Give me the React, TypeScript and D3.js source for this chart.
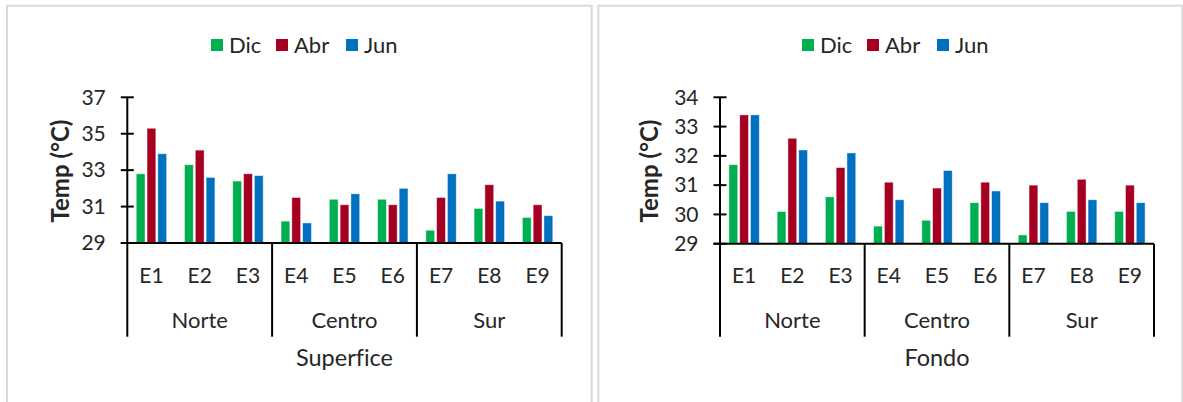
import React from 'react';
import * as d3 from 'd3';

const categories = ['E1', 'E2', 'E3', 'E4', 'E5', 'E6', 'E7', 'E8', 'E9'];
const groups = ['Norte', 'Centro', 'Sur'];
const seriesNames = ['Dic', 'Abr', 'Jun'];
const seriesColors = ['#00B050', '#A50021', '#0070C0'];

const supDic = [32.8, 33.3, 32.4, 30.2, 31.4, 31.4, 29.7, 30.9, 30.4];
const supAbr = [35.3, 34.1, 32.8, 31.5, 31.1, 31.1, 31.5, 32.2, 31.1];
const supJun = [33.9, 32.6, 32.7, 30.1, 31.7, 32.0, 32.8, 31.3, 30.5];

const fonDic = [31.7, 30.1, 30.6, 29.6, 29.8, 30.4, 29.3, 30.1, 30.1];
const fonAbr = [33.4, 32.6, 31.6, 31.1, 30.9, 31.1, 31.0, 31.2, 31.0];
const fonJun = [33.4, 32.2, 32.1, 30.5, 31.5, 30.8, 30.4, 30.5, 30.4];

const supTicks = [29, 31, 33, 35, 37];
const fonTicks = [29, 30, 31, 32, 33, 34];

const FONT = 'Lato, "Open Sans", sans-serif';
const TXT = {
  fontVariantLigatures: 'none',
  fontFeatureSettings: '"liga" 0, "clig" 0, "dlig" 0',
} as React.CSSProperties;

type ChartProps = {
  values: number[][];
  ticks: number[];
  title: string;
  axisX: number;
  axisRight: number;
  yTop: number;
  yBottom: number;
  yLabelX: number;
  legendX: number;
};

function Chart(p: ChartProps) {
  const y = d3.scaleLinear().domain([p.ticks[0], p.ticks[p.ticks.length - 1]]).range([p.yBottom, p.yTop]);
  const x0 = d3.scaleBand().domain(categories).range([p.axisX, p.axisRight]).paddingInner(0.37).paddingOuter(0.185);
  const x1 = d3.scaleBand().domain(seriesNames).range([0, x0.bandwidth()]).paddingInner(0.185);
  const gx = d3.scaleBand().domain(groups).range([p.axisX, p.axisRight]);
  const sepBottom = 336.7;
  const tickHalf = 6.5;
  const centerX = (p.axisX + p.axisRight) / 2;
  const legendSpacing = [0, 65, 135];
  return (
    <g>
      {seriesNames.map((s, i) => (
        <g key={s} transform={`translate(${p.legendX + legendSpacing[i]},0)`}>
          <rect x={0} y={39} width={12} height={12} fill={seriesColors[i]} />
          <text x={18} y={52.5} fontSize={22} fontFamily={FONT} fill="#262626" style={TXT}>{s}</text>
        </g>
      ))}
      {p.values.map((vals, si) =>
        vals.map((v, ci) => (
          <rect
            key={`${si}-${ci}`}
            x={(x0(categories[ci]) as number) + (x1(seriesNames[si]) as number)}
            y={y(v)}
            width={x1.bandwidth()}
            height={y(p.ticks[0]) - y(v)}
            fill={seriesColors[si]}
            stroke="rgba(255,255,255,0.55)"
            strokeWidth={0.8}
          />
        ))
      )}
      <line x1={p.axisX} x2={p.axisX} y1={p.yTop} y2={p.yBottom} stroke="#000" strokeWidth={2} />
      {p.ticks.map((t) => (
        <g key={t}>
          <line x1={p.axisX - tickHalf} x2={p.axisX + tickHalf} y1={y(t)} y2={y(t)} stroke="#000" strokeWidth={2} />
          <text x={p.axisX - 21.5} y={y(t) + 7.3} textAnchor="end" fontSize={21} fontFamily={FONT} fill="#262626" style={TXT}>{t}</text>
        </g>
      ))}
      <line x1={p.axisX - tickHalf} x2={p.axisRight} y1={p.yBottom} y2={p.yBottom} stroke="#000" strokeWidth={2} />
      {groups.map((g) => (
        <line key={g} x1={gx(g)} x2={gx(g)} y1={p.yBottom} y2={sepBottom} stroke="#000" strokeWidth={2} />
      ))}
      <line x1={p.axisRight} x2={p.axisRight} y1={p.yBottom} y2={sepBottom} stroke="#000" strokeWidth={2} />
      {categories.map((c) => (
        <text key={c} x={(x0(c) as number) + x0.bandwidth() / 2} y={282.5} textAnchor="middle" fontSize={21} fontFamily={FONT} fill="#262626" style={TXT}>{c}</text>
      ))}
      {groups.map((g) => (
        <text key={g} x={(gx(g) as number) + gx.bandwidth() / 2} y={328.3} textAnchor="middle" fontSize={22} fontFamily={FONT} fill="#262626" style={TXT}>{g}</text>
      ))}
      <text x={centerX} y={366} textAnchor="middle" fontSize={23.5} fontFamily={FONT} fill="#262626" style={TXT}>{p.title}</text>
      <text
        transform={`translate(${p.yLabelX},171) rotate(-90)`}
        textAnchor="middle"
        fontSize={24}
        fontWeight="bold"
        fontFamily={FONT}
        fill="#262626"
        style={TXT}
      >Temp (°C)</text>
    </g>
  );
}

export default function App() {
  return (
    <svg width={1183} height={402} style={{ position: 'absolute', left: 0, top: 0, background: '#fff' }}>
      <rect x={0} y={0} width={1183} height={402} fill="#fff" />
      <rect x={7} y={5.7} width={584.7} height={420} fill="#fff" stroke="#d9d9d9" strokeWidth={2} />
      <rect x={598.3} y={5.7} width={584} height={420} fill="#fff" stroke="#d9d9d9" strokeWidth={2} />
      <Chart
        values={[supDic, supAbr, supJun]}
        ticks={supTicks}
        title="Superfice"
        axisX={127.3}
        axisRight={561.7}
        yTop={97.3}
        yBottom={243}
        yLabelX={69}
        legendX={211}
      />
      <Chart
        values={[fonDic, fonAbr, fonJun]}
        ticks={fonTicks}
        title="Fondo"
        axisX={720}
        axisRight={1154}
        yTop={97.3}
        yBottom={243.7}
        yLabelX={657.5}
        legendX={802}
      />
    </svg>
  );
}
